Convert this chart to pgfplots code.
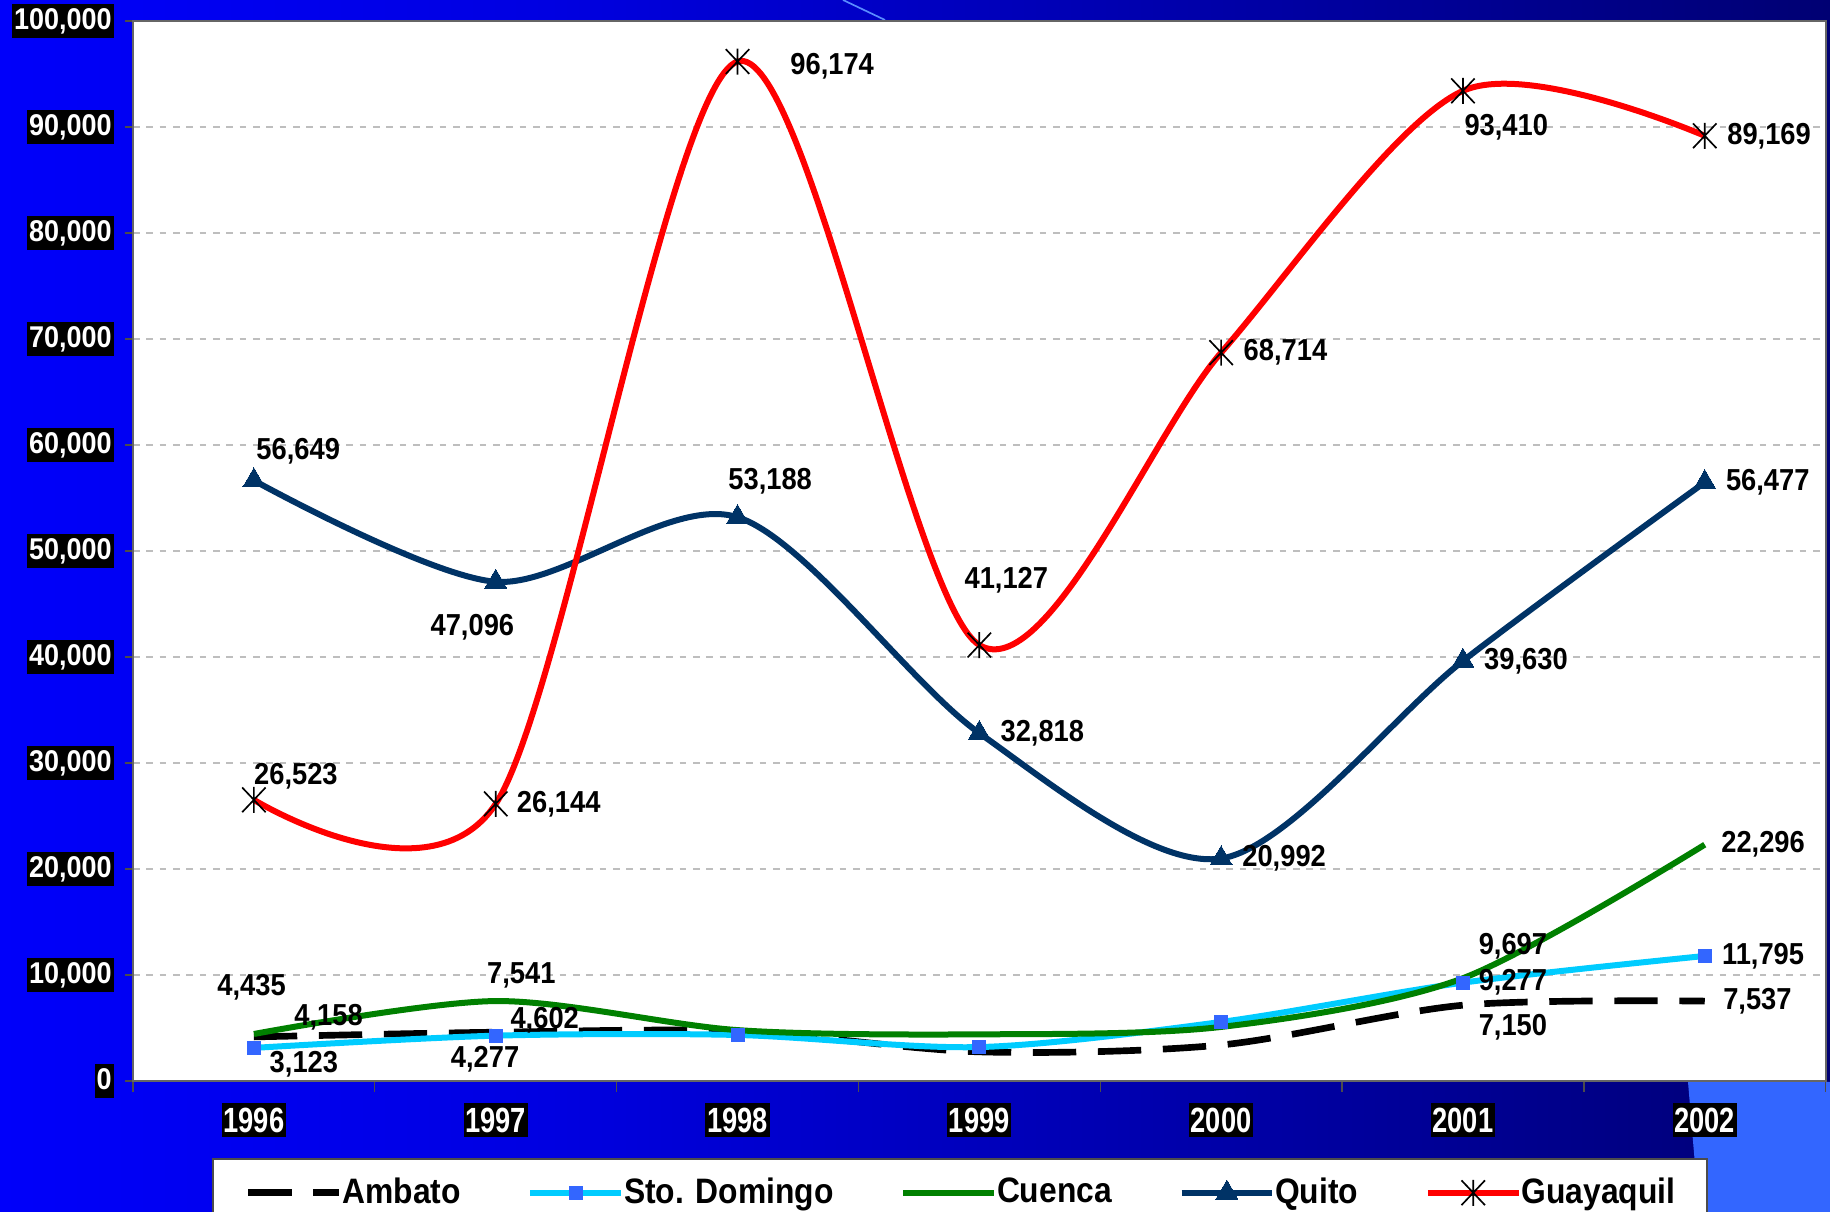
\documentclass[border=0pt]{standalone}
\usepackage{fontspec}
\setmainfont{Liberation Sans}[FakeStretch=0.9]
\newfontfamily\xfont{Liberation Sans}[FakeStretch=0.78]
\usepackage{pgfplots}
\pgfplotsset{compat=1.18}
\usepackage{pgfplotstable}

\definecolor{cyanline}{RGB}{0,204,255}
\definecolor{sqblue}{RGB}{51,102,255}
\definecolor{cgreen}{RGB}{0,128,0}
\definecolor{qnavy}{RGB}{0,51,102}
\definecolor{gred}{RGB}{255,0,0}
\definecolor{gridgray}{RGB}{190,190,190}
\definecolor{c0}{RGB}{0,0,255}
\definecolor{c1}{RGB}{0,0,250}
\definecolor{c2}{RGB}{0,0,225}
\definecolor{c3}{RGB}{0,0,150}
\definecolor{c4}{RGB}{0,0,70}
\definecolor{c5}{RGB}{0,0,30}
\definecolor{patch}{RGB}{51,102,255}
\definecolor{diag}{RGB}{90,140,255}

\pgfdeclarehorizontalshading{bgshade}{100bp}{color(0bp)=(c0); color(25bp)=(c1); color(40bp)=(c2); color(64bp)=(c3); color(89bp)=(c4); color(100bp)=(c5)}

\pgfdeclareplotmark{xast}{%
  \pgfpathmoveto{\pgfqpoint{0pt}{-\pgfplotmarksize}}%
  \pgfpathlineto{\pgfqpoint{0pt}{\pgfplotmarksize}}%
  \pgfpathmoveto{\pgfqpoint{-0.9\pgfplotmarksize}{-0.95\pgfplotmarksize}}%
  \pgfpathlineto{\pgfqpoint{0.9\pgfplotmarksize}{0.95\pgfplotmarksize}}%
  \pgfpathmoveto{\pgfqpoint{-0.9\pgfplotmarksize}{0.95\pgfplotmarksize}}%
  \pgfpathlineto{\pgfqpoint{0.9\pgfplotmarksize}{-0.95\pgfplotmarksize}}%
  \pgfusepathqstroke}

\pgfplotstableread{
x y lab dx dy
0 4158 4,158 22.4 6
1 4602 4,602 14.7 3.5
2 4700 {} 0 0
3 2750 {} 0 0
4 3400 {} 0 0
5 7150 7,150 15 -6.7
6 7537 7,537 15.8 0
}\ambato

\pgfplotstableread{
x y lab dx dy
0 3123 3,123 15 -4.9
1 4277 4,277 -3.2 -7
2 4340 {} 0 0
3 3200 {} 0 0
4 5570 {} 0 0
5 9277 9,277 15 0
6 11795 11,795 17.5 0
}\stodomingo

\pgfplotstableread{
x y lab dx dy
0 4435 4,435 -0.7 14
1 7541 7,541 7.7 7.7
2 4800 {} 0 0
3 4400 {} 0 0
4 5100 {} 0 0
5 9697 9,697 15 9.5
6 22296 22,296 17.5 0
}\cuenca

\pgfplotstableread{
x y lab dx dy
0 56649 56,649 13.3 8.8
1 47096 47,096 -7.0 -13.7
2 53188 53,188 9.8 10.9
3 32818 32,818 18.9 0
4 20992 20,992 18.9 0
5 39630 39,630 18.9 0
6 56477 56,477 18.9 0
}\quito

\pgfplotstableread{
x y lab dx dy
0 26523 26,523 12.6 7.0
1 26144 26,144 18.9 0
2 96174 96,174 28.4 -1.4
3 41127 41,127 8.1 19.3
4 68714 68,714 19.3 0
5 93410 93,410 13.0 -10.9
6 89169 89,169 19.3 0
}\guayaquil

\pgfplotsset{
  labelplot/.style={draw=none, mark=none, forget plot,
    point meta=explicit symbolic,
    nodes near coords={\pgfplotspointmeta},
    visualization depends on={\thisrow{dx} \as \mydx},
    visualization depends on={\thisrow{dy} \as \mydy},
    every node near coord/.append style={anchor=center, xshift={\mydx*1pt}, yshift={\mydy*1pt},
      font=\fontsize{9.1}{10}\selectfont\bfseries, text=black, inner sep=0pt}},
}

\begin{document}
\begin{tikzpicture}
\shade[shading=bgshade] (0,0) rectangle (549pt,363.6pt);
\fill[patch] (506.4pt,39.0pt) -- (549pt,39.0pt) -- (549pt,0pt) -- (509.7pt,0pt) -- cycle;
\draw[diag, line width=0.5pt] (252.9pt,363.6pt) -- (265.5pt,357.6pt);
\begin{axis}[
  at={(39.9pt,39.3pt)}, anchor=south west,
  scale only axis, width=507.8pt, height=318pt,
  xmin=-0.5, xmax=6.5, ymin=0, ymax=100000,
  axis background/.style={fill=white},
  axis line style={draw=black!60, line width=0.6pt},
  xtick={0,...,6}, xticklabels={1996,1997,1998,1999,2000,2001,2002},
  minor xtick={-0.5,0.5,...,6.5},
  ytick={0,10000,...,100000},
  scaled y ticks=false,
  yticklabel style={/pgf/number format/.cd, fixed, precision=0, 1000 sep={,}, assume math mode=true, /tikz/.cd,
    font=\fontsize{9}{10}\selectfont\bfseries, fill=black, text=white,
    inner xsep=0.6pt, inner ysep=1.2pt, text height=6.5pt, text depth=1.4pt, xshift=-3.2pt},
  tick align=outside,
  xtick style={draw=none},
  minor x tick style={draw=black!70, line width=0.4pt},
  minor tick length=3.2pt,
  ytick style={draw=black!70, line width=0.4pt},
  major tick length=2.4pt,
  xtick pos=bottom, ytick pos=left,
  ymajorgrids,
  y grid style={gridgray, dash pattern=on 2pt off 2pt, line width=0.4pt},
  xticklabel style={font=\fontsize{10.5}{12}\selectfont\xfont\bfseries, fill=black, text=white,
    inner xsep=0.5pt, inner ysep=1.3pt, text height=7.6pt, text depth=0pt, yshift=-4pt},
  legend columns=5,
  legend style={at={(0.0468,-0.0726)}, anchor=north west, draw=black!70, line width=0.5pt, fill=white,
    font=\fontsize{10.6}{12}\selectfont\bfseries, inner xsep=9.6pt, inner ysep=3.6pt,
    /tikz/every even column/.append style={column sep=20pt},
    nodes={inner xsep=0pt}},
  legend image code/.code={\draw[mark repeat=2,mark phase=2,#1] plot coordinates {(0pt,0pt) (13.6pt,0pt) (27.2pt,0pt)};},
  clip=false,
]
\addplot[black, line width=2pt, dash pattern=on 13pt off 6.5pt, smooth, tension=0.5, mark=none] table[x=x,y=y] {\ambato};
\addlegendentry{Ambato}
\addplot[cyanline, line width=1.8pt, smooth, tension=0.5, mark=square*, mark size=1.95pt, mark options={solid, fill=sqblue, draw=sqblue, line width=0pt}] table[x=x,y=y] {\stodomingo};
\addlegendentry{Sto. Domingo}
\addplot[cgreen, line width=1.8pt, smooth, tension=0.5, mark=none] table[x=x,y=y] {\cuenca};
\addlegendentry{Cuenca}
\addplot[qnavy, line width=1.8pt, smooth, tension=0.5, mark=triangle*, mark size=3.8pt, mark options={solid, fill=qnavy, draw=qnavy, line width=0pt}] table[x=x,y=y] {\quito};
\addlegendentry{Quito}
\addplot[gred, line width=1.8pt, smooth, tension=0.5, mark=xast, mark size=3.9pt, mark options={solid, draw=black, line width=0.5pt}] table[x=x,y=y] {\guayaquil};
\addlegendentry{Guayaquil}
\addplot[labelplot] table[x=x,y=y,meta=lab] {\ambato};
\addplot[labelplot] table[x=x,y=y,meta=lab] {\stodomingo};
\addplot[labelplot] table[x=x,y=y,meta=lab] {\cuenca};
\addplot[labelplot] table[x=x,y=y,meta=lab] {\quito};
\addplot[labelplot] table[x=x,y=y,meta=lab] {\guayaquil};
\end{axis}
\pgfresetboundingbox
\useasboundingbox (0,0) rectangle (549pt,363.6pt);
\end{tikzpicture}
\end{document}
